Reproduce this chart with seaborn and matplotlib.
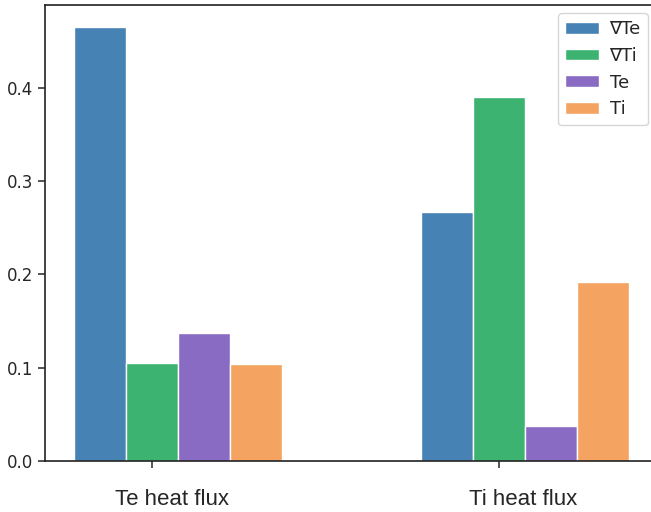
import matplotlib
matplotlib.use('Agg')
import matplotlib.pyplot as plt
import seaborn as sns
import pandas as pd

groups = ['Te heat flux', 'Ti heat flux']
series = ['∇Te', '∇Ti', 'Te', 'Ti']
grad_te = [0.465, 0.267]
grad_ti = [0.105, 0.390]
te_vals = [0.137, 0.037]
ti_vals = [0.104, 0.192]
colors = ['#4682B4', '#3CB371', '#8A6BC4', '#F4A460']
yticks = [0.0, 0.1, 0.2, 0.3, 0.4]

rows = []
for s, vals in zip(series, [grad_te, grad_ti, te_vals, ti_vals]):
    for g, v in zip(groups, vals):
        rows.append({'group': g, 'series': s, 'value': v})
df = pd.DataFrame(rows)

sns.set_style('ticks')
plt.rcParams['font.family'] = ['DejaVu Sans']

fig = plt.figure(figsize=(6.51, 5.12), dpi=100)
ax = fig.add_axes([45/651, 51/512, 607/651, 456/512])
sns.barplot(data=df, x='group', y='value', hue='series', order=groups,
            hue_order=series, palette=colors, width=0.6, saturation=1,
            edgecolor='white', linewidth=1, ax=ax)

ax.set_xlim(-0.383, 1.366)
ax.set_ylim(0, 0.489)
ax.set_yticks(yticks)
ax.set_yticklabels([f'{v:.1f}' for v in yticks], fontsize=12)
ax.set_xlabel('')
ax.set_ylabel('')

# ticks at second bar of each group, labels near the group centres
ax.set_xticks([-0.075, 0.925])
ax.set_xticklabels(['', ''])
ax.set_xticks([-0.016, 0.996], minor=True)
ax.set_xticklabels(groups, minor=True, fontsize=16, family='Liberation Sans')
ax.tick_params(axis='x', which='minor', length=0, pad=20.5)
ax.tick_params(axis='both', which='major', length=5, width=1.1)
for sp in ax.spines.values():
    sp.set_linewidth(1.2)
    sp.set_color('#222222')

ax.legend(loc='upper right', bbox_to_anchor=(0.9934, 0.9825), borderaxespad=0,
          fontsize=13, labelspacing=0.48, handlelength=1.85, handleheight=0.6,
          handletextpad=0.6, frameon=True)

fig.savefig('out.png', dpi=100)
